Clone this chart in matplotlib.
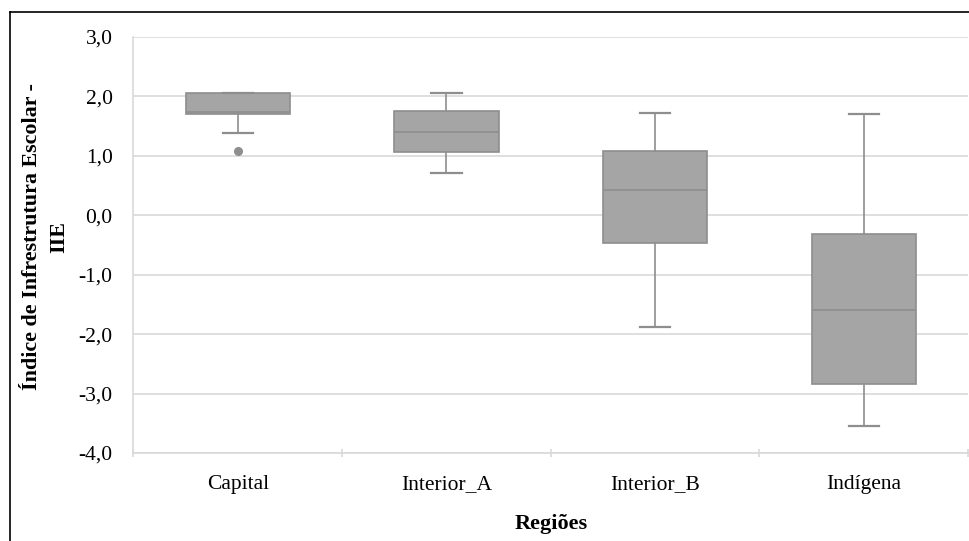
"""Boxplot do Índice de Infrestrutura Escolar (IIE) por região."""
import matplotlib
matplotlib.use("Agg")
import matplotlib.pyplot as plt
from matplotlib.lines import Line2D

REGIOES = ["Capital", "Interior_A", "Interior_B", "Indígena"]
WHIS_LO = [1.38, 0.71, -1.88, -3.54]
Q1 = [1.70, 1.06, -0.47, -2.84]
MEDIANA = [1.74, 1.40, 0.43, -1.60]
Q3 = [2.05, 1.75, 1.08, -0.32]
WHIS_HI = [2.05, 2.05, 1.72, 1.70]
OUTLIERS = [[1.08], [], [], []]
YTICKS = [3.0, 2.0, 1.0, 0.0, -1.0, -2.0, -3.0, -4.0]

BOX = "#a5a5a5"
EDGE = "#8e8e8e"
GRID = "#d9d9d9"

plt.rcParams["font.family"] = ["Liberation Serif", "DejaVu Serif"]

stats = []
for i, nome in enumerate(REGIOES):
    stats.append(dict(label=nome, whislo=WHIS_LO[i], q1=Q1[i], med=MEDIANA[i],
                      q3=Q3[i], whishi=WHIS_HI[i], fliers=OUTLIERS[i]))

fig = plt.figure(figsize=(9.7, 5.41), dpi=100)
ax = fig.add_axes([0.1376, 0.1627, 0.8604, 0.7689])

pos = list(range(len(REGIOES)))
ax.bxp(stats, positions=pos, widths=0.5, capwidths=0.145, patch_artist=True,
       boxprops=dict(facecolor=BOX, edgecolor=EDGE, linewidth=1.2),
       medianprops=dict(color=EDGE, linewidth=1.2),
       whiskerprops=dict(color=EDGE, linewidth=1.2),
       capprops=dict(color=EDGE, linewidth=1.6),
       flierprops=dict(marker="o", markerfacecolor=EDGE, markeredgecolor=EDGE,
                       markersize=5.5))

ax.set_xlim(-0.5, len(REGIOES) - 0.5)
ax.set_ylim(-4.0, 3.0)
ax.set_yticks(YTICKS)
ax.set_yticklabels([f"{v:.1f}".replace(".", ",") for v in YTICKS])
ax.set_xticks(pos)
ax.set_xticklabels(REGIOES)
ax.set_xticks([p - 0.5 for p in pos] + [len(REGIOES) - 0.5], minor=True)
ax.tick_params(axis="both", which="major", length=0, labelsize=15.5)
ax.tick_params(axis="y", pad=15)
ax.tick_params(axis="x", pad=16)
ax.tick_params(axis="x", which="minor", direction="inout", length=6,
               color=GRID, width=1.2)

ax.grid(axis="y", color=GRID, linewidth=1.2)
ax.set_axisbelow(True)
for s in ["top", "right"]:
    ax.spines[s].set_visible(False)
for s in ["left", "bottom"]:
    ax.spines[s].set_color(GRID)
    ax.spines[s].set_linewidth(1.2)

ax.set_ylabel("Índice de Infrestrutura Escolar -\nIIE", fontsize=15.8,
              fontweight="bold", linespacing=1.45)
ax.yaxis.set_label_coords(-0.077, 0.52)
ax.set_xlabel("Regiões", fontsize=16, fontweight="bold", labelpad=14)

# moldura parcial da figura (esquerda e topo)
fx = 10 / 970
fy = 1 - 12 / 541
fig.add_artist(Line2D([fx, fx], [0, fy], color="black", lw=1.2,
                      transform=fig.transFigure))
fig.add_artist(Line2D([fx, 1], [fy, fy], color="black", lw=1.2,
                      transform=fig.transFigure))

fig.savefig("out.png", dpi=100)
